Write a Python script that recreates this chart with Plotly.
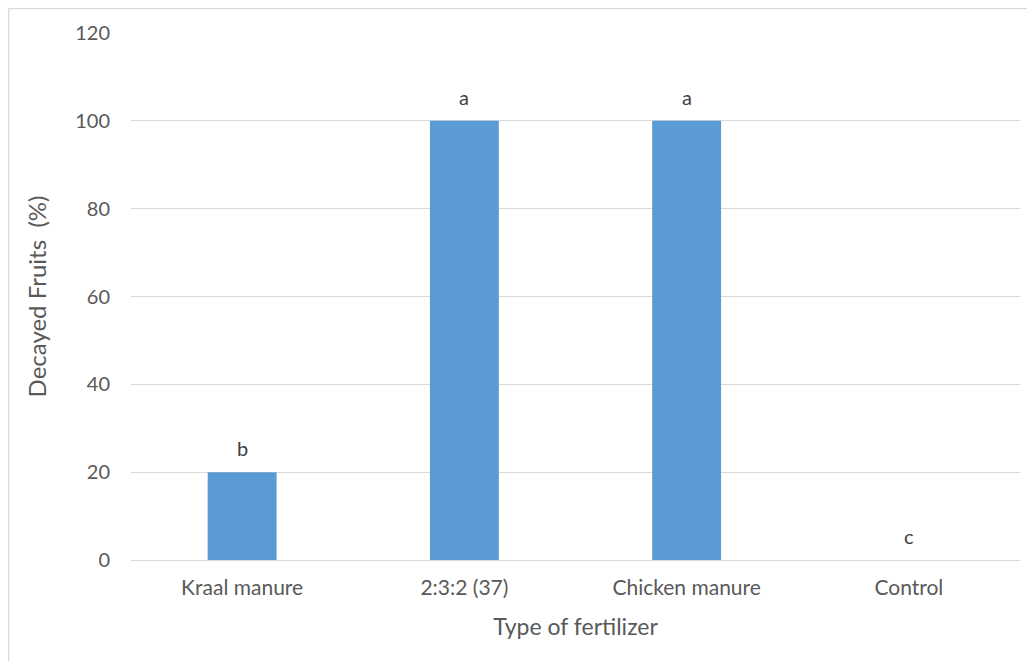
import plotly.graph_objects as go

categories = ["Kraal manure", "2:3:2 (37)", "Chicken manure", "Control"]
decayed = [20, 100, 100, 0]
letters = ["b", "a", "a", "c"]
y_ticks = [0, 20, 40, 60, 80, 100, 120]

FONT = "Lato, Carlito, 'Open Sans', sans-serif"

# the page body has an 8px margin, so the figure is sized/positioned to compensate
OFF = 8
W, H = 1035 - 2 * OFF, 669 - 2 * OFF
PL, PR, PT, PB = 131, 1020, 33, 560  # target plot-area edges in window pixels

fig = go.Figure()
fig.add_trace(go.Bar(
    x=categories, y=decayed,
    marker=dict(color="#5b9bd5", line=dict(width=0)),
    width=0.31, showlegend=False, hoverinfo="x+y",
))

for c, v, t in zip(categories, decayed, letters):
    fig.add_annotation(x=c, y=v, text=t, showarrow=False, yshift=24,
                       font=dict(family=FONT, size=20, color="#404040"))

fig.update_layout(
    width=W, height=H,
    margin=dict(l=PL - OFF, r=W - (PR - OFF), t=PT - OFF, b=H - (PB - OFF), pad=0),
    paper_bgcolor="white", plot_bgcolor="white",
    font=dict(family=FONT, color="#595959", size=20),
    xaxis=dict(
        title=dict(text="Type of fertilizer", font=dict(size=23, color="#595959"), standoff=20),
        tickfont=dict(size=21, color="#595959"),
        showgrid=False, showline=False, zeroline=False,
        ticks="", ticklabelstandoff=13,
    ),
    yaxis=dict(
        title=dict(text="Decayed Fruits \u00a0(%)", font=dict(size=24, color="#595959"), standoff=21),
        range=[0, 120], tickvals=y_ticks,
        tickfont=dict(size=20, color="#595959"),
        showgrid=True, gridcolor="#d9d9d9", gridwidth=1,
        zeroline=True, zerolinecolor="#d9d9d9", zerolinewidth=1,
        showline=False, ticks="", ticklabelstandoff=20,
    ),
)

# chart-area border: only the left and top edges are visible in the reference
pw, ph = PR - PL, PB - PT
bx = (8.5 - PL) / pw
by = (PB - 8.5) / ph
fig.add_shape(type="line", xref="paper", yref="paper",
              x0=bx, x1=bx, y0=(PB - 700) / ph, y1=by,
              line=dict(color="#d9d9d9", width=1.5), layer="below")
fig.add_shape(type="line", xref="paper", yref="paper",
              x0=bx, x1=(1040 - PL) / pw, y0=by, y1=by,
              line=dict(color="#d9d9d9", width=1.5), layer="below")

fig.write_html("out.html")
